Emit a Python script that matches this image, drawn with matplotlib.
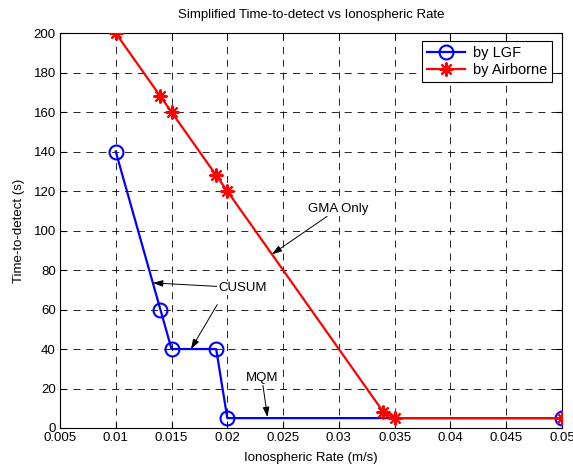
import matplotlib
matplotlib.use("Agg")
import matplotlib.pyplot as plt

plt.rcParams['font.family'] = ['Liberation Sans', 'DejaVu Sans']
plt.rcParams['font.size'] = 9.5

# Ionospheric rate (m/s) and time-to-detect (s)
lgf_rate = [0.010, 0.014, 0.015, 0.019, 0.020, 0.050]
lgf_ttd = [140, 60, 40, 40, 5, 5]

air_rate = [0.010, 0.014, 0.015, 0.019, 0.020, 0.034, 0.035, 0.050]
air_ttd = [200, 168, 160, 128, 120, 8, 5, 5]

xticks = [0.005, 0.01, 0.015, 0.02, 0.025, 0.03, 0.035, 0.04, 0.045, 0.05]
xtick_labels = ['0.005', '0.01', '0.015', '0.02', '0.025', '0.03', '0.035', '0.04', '0.045', '0.05']
yticks = [0, 20, 40, 60, 80, 100, 120, 140, 160, 180, 200]

FS = 9.5

fig = plt.figure(figsize=(5.73, 4.70), dpi=100)
ax = fig.add_axes([0.1047, 0.0894, 0.876, 0.840])

ax.plot(lgf_rate, lgf_ttd, color='blue', linewidth=1.6, marker='o',
        markersize=10, markerfacecolor='none', markeredgewidth=1.5,
        label='by LGF', zorder=3)
ax.plot(air_rate, air_ttd, color='red', linewidth=1.6, marker=(8, 2, 0),
        markersize=10, markeredgewidth=1.5, label='by Airborne', zorder=4)

ax.set_xlim(0.005, 0.05)
ax.set_ylim(0, 200)
ax.set_xticks(xticks)
ax.set_xticklabels(xtick_labels)
ax.set_yticks(yticks)
ax.tick_params(direction='in', top=True, right=True, length=4, labelsize=FS, pad=3)
ax.grid(True, color='black', linestyle=(0, (8.5, 7)), linewidth=0.6)
for s in ax.spines.values():
    s.set_linewidth(0.8)

ax.set_title('Simplified Time-to-detect vs Ionospheric Rate', fontsize=FS, pad=11)
ax.set_xlabel('Ionospheric Rate (m/s)', fontsize=FS, labelpad=6)
ax.set_ylabel('Time-to-detect (s)', fontsize=FS, labelpad=6)

arrow = dict(arrowstyle='-|>,head_length=0.6,head_width=0.2', color='black',
             linewidth=0.7, mutation_scale=10, shrinkA=0, shrinkB=0)
bbox = dict(boxstyle='square,pad=0.1', fc='white', ec='none')

ax.annotate('CUSUM', xy=(0.01333, 73.5), xytext=(0.0214, 71.0),
            ha='center', va='center', fontsize=FS, bbox=bbox,
            arrowprops=arrow, zorder=5)
ax.annotate('', xy=(0.01674, 40), xytext=(0.0191, 62.5),
            arrowprops=arrow, zorder=5)
ax.annotate('MQM', xy=(0.0236, 5.5), xytext=(0.0231, 25.3),
            ha='center', va='center', fontsize=FS, bbox=bbox,
            arrowprops=arrow, zorder=5)
ax.annotate('GMA Only', xy=(0.0240, 88), xytext=(0.0299, 110.9),
            ha='center', va='center', fontsize=FS, bbox=bbox,
            arrowprops=arrow, zorder=5)

leg = ax.legend(loc='upper right', fontsize=10.5, frameon=True, fancybox=False,
                edgecolor='black', framealpha=1, handlelength=2.6,
                borderpad=0.35, labelspacing=0.22, handletextpad=0.5,
                borderaxespad=0, bbox_to_anchor=(0.980, 0.980))
leg.get_frame().set_linewidth(0.8)

fig.savefig('out.png', dpi=100)
